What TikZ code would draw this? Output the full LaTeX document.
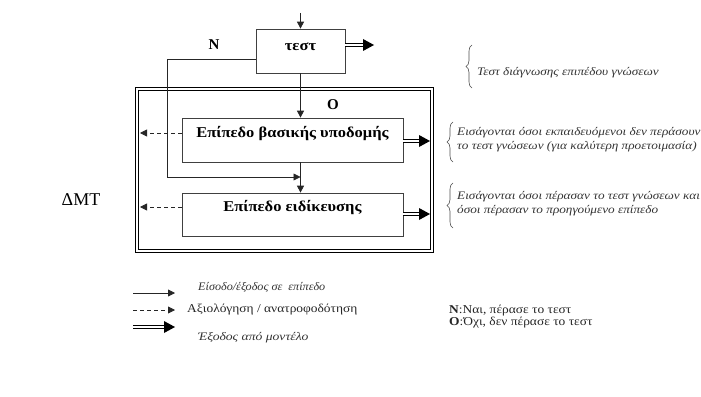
\documentclass[tikz,border=0pt]{standalone}
\usepackage{fontspec}
\setmainfont{Liberation Serif}
\usetikzlibrary{arrows.meta,decorations.pathreplacing,calc}
\begin{document}
\begin{tikzpicture}[x=1pt,y=-1pt,
  box/.style={draw=black!75, line width=0.7pt, rectangle, inner sep=0pt},
  frm/.style={draw=black, double, double distance=2.2pt, line width=0.9pt, rectangle, inner sep=0pt},
  arr/.style={draw=black!85, line width=0.8pt, -{Triangle[length=7pt,width=7pt]}},
  darr/.style={draw=black!85, line width=0.8pt, dashed, dash pattern=on 4pt off 3pt, -{Triangle[length=7pt,width=7pt]}},
  dbl/.style={draw=black, double, double distance=1.8pt, line width=0.8pt, shorten >=10pt},
  dtip/.pic={\fill[black] (0,0) -- (-11,-6) -- (-11,6) -- cycle;},
  brc/.style={draw=black!70, line width=0.6pt, decorate, decoration={brace, amplitude=6pt}},
  note/.style={anchor=west, inner sep=0pt, font=\fontsize{11.5}{13.5}\selectfont\itshape, text=black!80, align=left, xscale=1.15, transform shape},
  boxtxt/.style={font=\fontsize{15}{17}\selectfont\bfseries, xscale=1.1, transform shape},
  lbl/.style={font=\fontsize{15}{17}\selectfont\bfseries, inner sep=0pt},
  plain/.style={anchor=west, inner sep=0pt, font=\fontsize{12}{14}\selectfont, text=black!85, xscale=1.12, transform shape}
]
\useasboundingbox (0,0) rectangle (701,396);

% frame
\node[frm, minimum width=295pt, minimum height=162pt] (frame) at (284.5,170) {};

% boxes
\node[box, minimum width=89pt, minimum height=44pt] (test) at (300.5,51) {};
\node[boxtxt, inner sep=0pt] (testtxt) at (300.5,47) {τεστ};
\node[box, minimum width=221pt, minimum height=44pt] (basic) at (292.5,140) {};
\node[boxtxt, inner sep=0pt] (basictxt) at (292.5,134) {Επίπεδο βασικής υποδομής};
\node[box, minimum width=221pt, minimum height=43pt] (spec) at (292.5,214.5) {};
\node[boxtxt, inner sep=0pt] (spectxt) at (292.5,208) {Επίπεδο ειδίκευσης};

% coordinates
\coordinate (top) at (300.5,13);
\coordinate (t1) at (374,45);
\coordinate (n1) at (167,59);
\coordinate (n2) at (167,177);
\coordinate (d1) at (140,133);
\coordinate (d2) at (140,207);
\coordinate (r1) at (430,141);
\coordinate (r2) at (430,214);

% connectors
\draw[arr] (top) -- (test.north);
\draw[dbl] (test.east |- t1) -- (t1); \pic at (t1) {dtip};
\draw[arr] (test.south) -- (test.south |- basic.north);
\draw[arr] (test.west |- n1) -- (n1) -- (n2) -- (test.south |- n2);
\draw[arr] (test.south |- basic.south) -- (test.south |- spec.north);
\draw[darr] (basic.west |- d1) -- (d1);
\draw[darr] (spec.west |- d2) -- (d2);
\draw[dbl] (basic.east |- r1) -- (r1); \pic at (r1) {dtip};
\draw[dbl] (spec.east |- r2) -- (r2); \pic at (r2) {dtip};

% labels
\node[lbl] (N) at (214,45) {N};
\node[lbl] (O) at (333,105) {O};
\node[font=\fontsize{18}{20}\selectfont, inner sep=0pt] (dmt) at (81,200) {ΔΜΤ};

% braces and notes
\draw[brc] (472,88) -- (472,45);
\node[note] (a1) at (477,73) {Τεστ διάγνωσης επιπέδου γνώσεων};
\draw[brc] (453,162) -- (453,122);
\node[note] (a2) at (457,139.5) {Εισάγονται όσοι εκπαιδευόμενοι δεν περάσουν\\το τεστ γνώσεων (για καλύτερη προετοιμασία)};
\draw[brc] (453,228) -- (453,183);
\node[note] (a3) at (457,203.5) {Εισάγονται όσοι πέρασαν το τεστ γνώσεων και\\όσοι πέρασαν το προηγούμενο επίπεδο};

% legend
\coordinate (l1a) at (133,293); \coordinate (l1b) at (175,293);
\coordinate (l2a) at (133,310); \coordinate (l2b) at (175,310);
\coordinate (l3a) at (133,327); \coordinate (l3b) at (175,327);
\draw[arr] (l1a) -- (l1b);
\draw[darr] (l2a) -- (l2b);
\draw[dbl] (l3a) -- (l3b); \pic at (l3b) {dtip};
\node[note, xscale=0.92] (g1) at (198,287) {Είσοδο/έξοδος σε \ επίπεδο};
\node[note, xscale=1.03] (g3) at (198,338) {Έξοδος από μοντέλο};
\node[plain] (g2) at (187,310) {Αξιολόγηση / ανατροφοδότηση};
\node[plain] (k1) at (449,311) {\textbf{N}:Ναι, πέρασε το τεστ};
\node[plain] (k2) at (449,323) {\textbf{O}:Όχι, δεν πέρασε το τεστ};
\end{tikzpicture}
\end{document}
